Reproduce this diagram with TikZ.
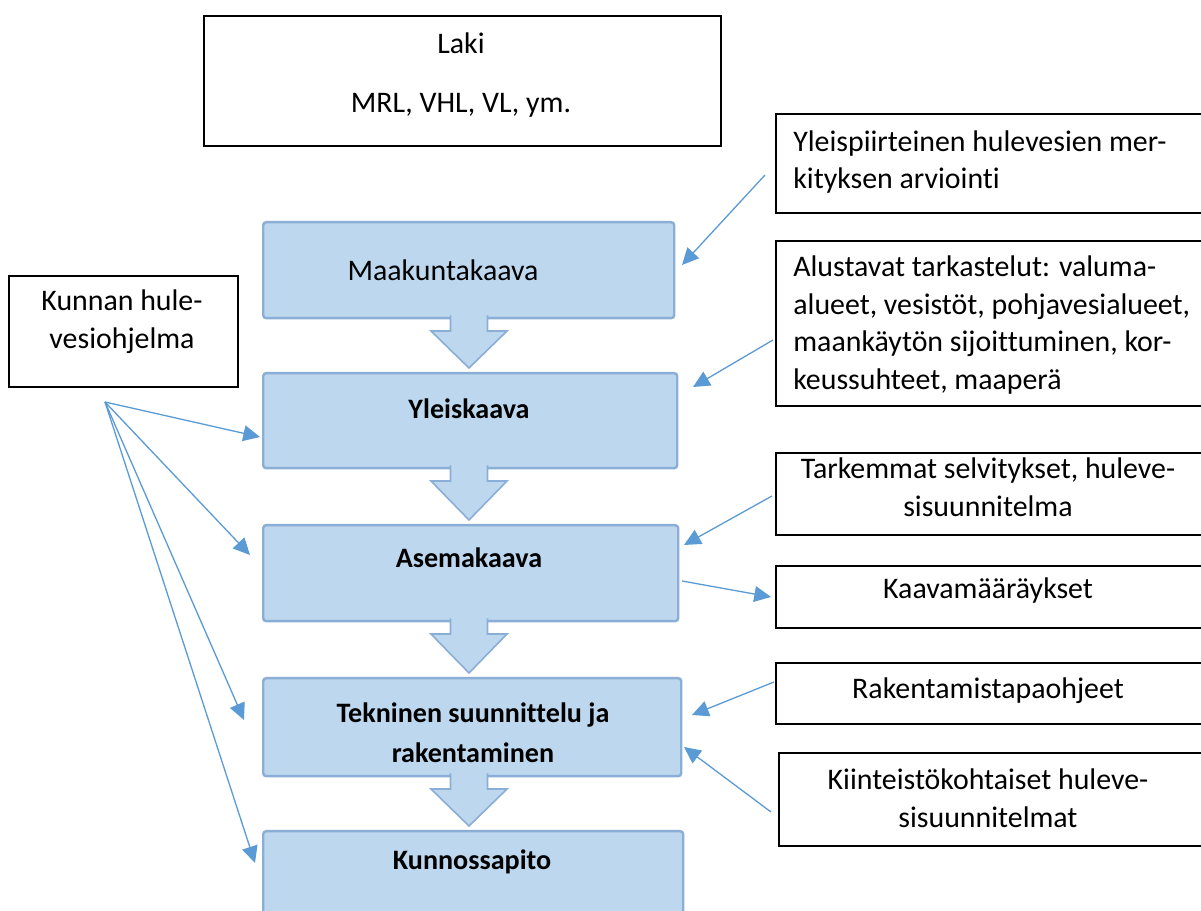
\documentclass[tikz,border=0pt]{standalone}
\usepackage{fontspec}
\setmainfont{Carlito}[Ligatures={NoCommon}]
\usetikzlibrary{arrows.meta}
\newlength\pxu \setlength\pxu{0.02cm}
\definecolor{boxfill}{HTML}{BDD7EE}
\definecolor{boxline}{HTML}{8AAED6}
\definecolor{connc}{HTML}{5B9BD5}
\newcommand\flowarr[2]{%
  \draw[downarr] (450.5,{#1-1.5}) -- (450.5,{#1+14}) -- (431,{#1+14}) -- (469,{#2-4})
     -- (507,{#1+14}) -- (487.5,{#1+14}) -- (487.5,{#1-1.5});}
\begin{document}
\begin{tikzpicture}[x=0.02cm,y=-0.02cm,
  stage/.style={draw=boxline, line width=2.4\pxu, fill=boxfill, rounded corners=3\pxu, anchor=north west, inner sep=0pt},
  downarr/.style={fill=boxfill, draw=boxline, line width=1.6\pxu},
  txtbox/.style={draw=black, line width=1.6\pxu, fill=white, anchor=north west, inner sep=0pt},
  reg/.style={font=\fontsize{17}{21.5}\selectfont, align=center, inner sep=0pt},
  regl/.style={font=\fontsize{17}{21.5}\selectfont, align=left, inner sep=0pt, anchor=west},
  bld/.style={font=\fontsize{16}{22.5}\selectfont\bfseries, align=center, inner sep=0pt},
  conn/.style={draw=connc, line width=0.74pt, -{Triangle[length=9.5pt,width=9pt]}}
]
\useasboundingbox (0,0) rectangle (1201,911);
\clip (0,0) rectangle (1201,911);
\fill[white] (0,0) rectangle (1201,911);

% stages
\node[stage, minimum width=411\pxu, minimum height=96\pxu] (s1) at (262,221) {};
\node[stage, minimum width=414\pxu, minimum height=95\pxu] (s2) at (262,372) {};
\node[stage, minimum width=415\pxu, minimum height=96\pxu] (s3) at (262,524) {};
\node[stage, minimum width=418\pxu, minimum height=98\pxu] (s4) at (262,677) {};
\node[stage, minimum width=420\pxu, minimum height=120\pxu] (s5) at (262,830) {};

\flowarr{317}{372}
\flowarr{467}{524}
\flowarr{620}{677}
\flowarr{775}{830}

\node[reg] (t1) at (443,270) {Maakuntakaava};
\node[bld] (t2) at (469,409) {Yleiskaava};
\node[bld] (t3) at (469,558) {Asemakaava};
\node[bld] (t4) at (473,733) {Tekninen suunnittelu ja\\rakentaminen};
\node[bld] (t5) at (472,862) {Kunnossapito};

% text boxes
\node[txtbox, minimum width=517\pxu, minimum height=130\pxu] (laki) at (203,15) {};
\node[reg] (lakit) at (461,75) {Laki\\[12pt]MRL, VHL, VL, ym.};

\node[txtbox, minimum width=229\pxu, minimum height=111\pxu] (kunnan) at (8,275) {};
\node[reg] (kunnant) at (122,322) {Kunnan hule-\\vesiohjelma};

\node[txtbox, minimum width=430\pxu, minimum height=99\pxu] (b1) at (775,113) {};
\node[regl] (b1t) at (793,162) {Yleispiirteinen hulevesien mer-\\kityksen arviointi};

\node[txtbox, minimum width=430\pxu, minimum height=165\pxu] (b2) at (775,240) {};
\node[regl] (b2t) at (793,325) {Alustavat tarkastelut: valuma-\\alueet, vesistöt, pohjavesialueet,\\maankäytön sijoittuminen, kor-\\keussuhteet, maaperä};

\node[txtbox, minimum width=430\pxu, minimum height=82\pxu] (b3) at (775,452) {};
\node[reg] (b3t) at (988,487) {Tarkemmat selvitykset, huleve-\\sisuunnitelma};

\node[txtbox, minimum width=430\pxu, minimum height=62\pxu] (b4) at (775,565) {};
\node[reg] (b4t) at (988,591) {Kaavamääräykset};

\node[txtbox, minimum width=430\pxu, minimum height=61\pxu] (b5) at (775,662) {};
\node[reg] (b5t) at (988,691) {Rakentamistapaohjeet};

\node[txtbox, minimum width=427\pxu, minimum height=93\pxu] (b6) at (778,752) {};
\node[reg] (b6t) at (988,798) {Kiinteistökohtaiset huleve-\\sisuunnitelmat};

% connectors right
\coordinate (c1s) at (765,175); \coordinate (c1e) at (682,265);
\coordinate (c2s) at (773,340); \coordinate (c2e) at (693,387);
\coordinate (c3s) at (772,496); \coordinate (c3e) at (684,545);
\coordinate (c4s) at (682,581); \coordinate (c4e) at (771,597);
\coordinate (c5s) at (774,682); \coordinate (c5e) at (692,715);
\coordinate (c6s) at (771,812); \coordinate (c6e) at (684,747);
\draw[conn] (c1s) -- (c1e);
\draw[conn] (c2s) -- (c2e);
\draw[conn] (c3s) -- (c3e);
\draw[conn] (c4s) -- (c4e);
\draw[conn] (c5s) -- (c5e);
\draw[conn] (c6s) -- (c6e);

% fan left
\coordinate (fo) at (105,402);
\coordinate (fy) at (260,437);
\coordinate (fa) at (250,555);
\coordinate (ft) at (244,720);
\coordinate (fk) at (255,863);
\draw[conn] (fo) -- (fy);
\draw[conn] (fo) -- (fa);
\draw[conn] (fo) -- (ft);
\draw[conn] (fo) -- (fk);
\end{tikzpicture}
\end{document}
